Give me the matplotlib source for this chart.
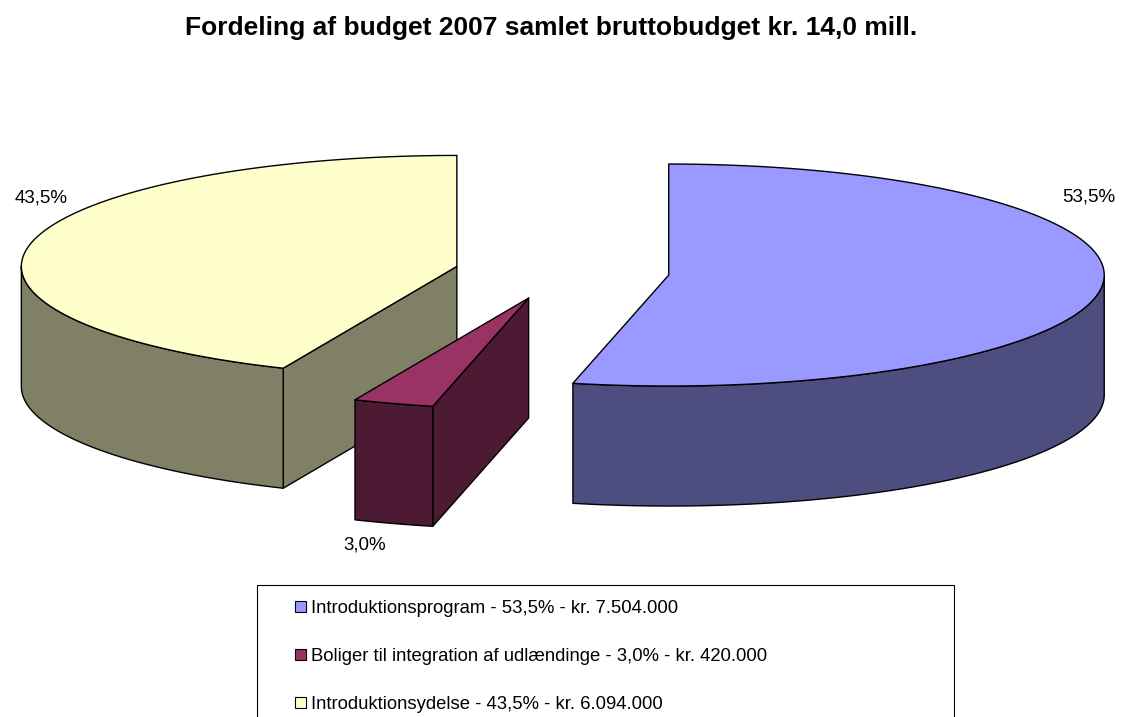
import numpy as np
import matplotlib
matplotlib.use("Agg")
import matplotlib.pyplot as plt
from matplotlib.patches import Polygon, Patch, Rectangle

plt.rcParams['font.family'] = ['Liberation Sans', 'DejaVu Sans']

# data
titel = "Fordeling af budget 2007 samlet bruttobudget kr. 14,0 mill."
navne = ["Introduktionsprogram", "Boliger til integration af udlændinge", "Introduktionsydelse"]
beloeb = [7504000, 420000, 6094000]
farver_top = ["#9999FF", "#993366", "#FFFFCC"]
farver_side = ["#4D4D7F", "#4D1A33", "#808066"]

# geometri (pixels)
W, H = 1121, 717
cx, cy = 562, 272
rx, ry = 435.5, 111
dybde = 120
explode = 0.2466
label_pos = [(1089, 197), (365, 545), (41, 198)]


def dk_tal(v):
    return f"{v:,}".replace(",", ".")


def dk_pct(p):
    return f"{p:.1f}".replace(".", ",") + "%"


def punkt(t, r, h, ox, oy):
    tr = np.radians(t)
    return (cx + ox + rx * r * np.cos(tr), cy + oy - ry * r * np.sin(tr) + dybde * h)


def bue(t0, t1, h, ox, oy, n=120):
    ts = np.linspace(t0, t1, n)
    return [punkt(t, 1, h, ox, oy) for t in ts]


fig = plt.figure(figsize=(W / 100, H / 100), dpi=100)
ax = fig.add_axes([0, 0, 1, 1])
ax.set_xlim(0, W)
ax.set_ylim(H, 0)
ax.axis("off")

total = sum(beloeb)
andele = [b / total for b in beloeb]
cum = np.concatenate([[0], np.cumsum(andele)])
t_start = 90 - 360 * cum[:-1]
t_slut = 90 - 360 * cum[1:]

# tegne-raekkefoelge: bagerst foerst
for i in [2, 0, 1]:
    ts, te = t_start[i], t_slut[i]
    m = np.radians((ts + te) / 2)
    ox = explode * rx * np.cos(m)
    oy = -explode * ry * np.sin(m)
    kw = dict(edgecolor="black", linewidth=1.0, joinstyle="round")

    # radiale sider
    if np.cos(np.radians(ts)) < -1e-9:
        pts = [punkt(ts, 0, 0, ox, oy), punkt(ts, 1, 0, ox, oy), punkt(ts, 1, 1, ox, oy), punkt(ts, 0, 1, ox, oy)]
        ax.add_patch(Polygon(pts, facecolor=farver_side[i], **kw))
    if np.cos(np.radians(te)) > 1e-9:
        pts = [punkt(te, 0, 0, ox, oy), punkt(te, 1, 0, ox, oy), punkt(te, 1, 1, ox, oy), punkt(te, 0, 1, ox, oy)]
        ax.add_patch(Polygon(pts, facecolor=farver_side[i], **kw))

    # ydre side (forreste halvdel)
    a0, a1 = max(te, -180), min(ts, 0)
    if a1 > a0:
        pts = bue(a0, a1, 0, ox, oy) + bue(a1, a0, 1, ox, oy)
        ax.add_patch(Polygon(pts, facecolor=farver_side[i], **kw))

    # top
    pts = [punkt(0, 0, 0, ox, oy)] + bue(ts, te, 0, ox, oy)
    ax.add_patch(Polygon(pts, facecolor=farver_top[i], **kw))

    ax.text(label_pos[i][0], label_pos[i][1], dk_pct(andele[i] * 100),
            ha="center", va="center", fontsize=13.5)

ax.text(551, 35, titel, ha="center", va="baseline", fontsize=19, fontweight="bold")

# legende
ax.add_patch(Rectangle((257, 585), 697, 150, facecolor="white", edgecolor="black", linewidth=0.8))
handles = [Patch(facecolor=farver_top[i], edgecolor="black", linewidth=0.8) for i in range(3)]
labels = [f"{navne[i]} - {dk_pct(andele[i] * 100)} - kr. {dk_tal(beloeb[i])}" for i in range(3)]
leg = ax.legend(handles, labels, loc="upper left",
                bbox_to_anchor=(295 / W, 1 - 600 / H), frameon=False,
                fontsize=13.3, handlelength=0.6, handleheight=0.6, handletextpad=0.25,
                labelspacing=1.68, borderpad=0, borderaxespad=0)

fig.savefig("out.png", dpi=100)
